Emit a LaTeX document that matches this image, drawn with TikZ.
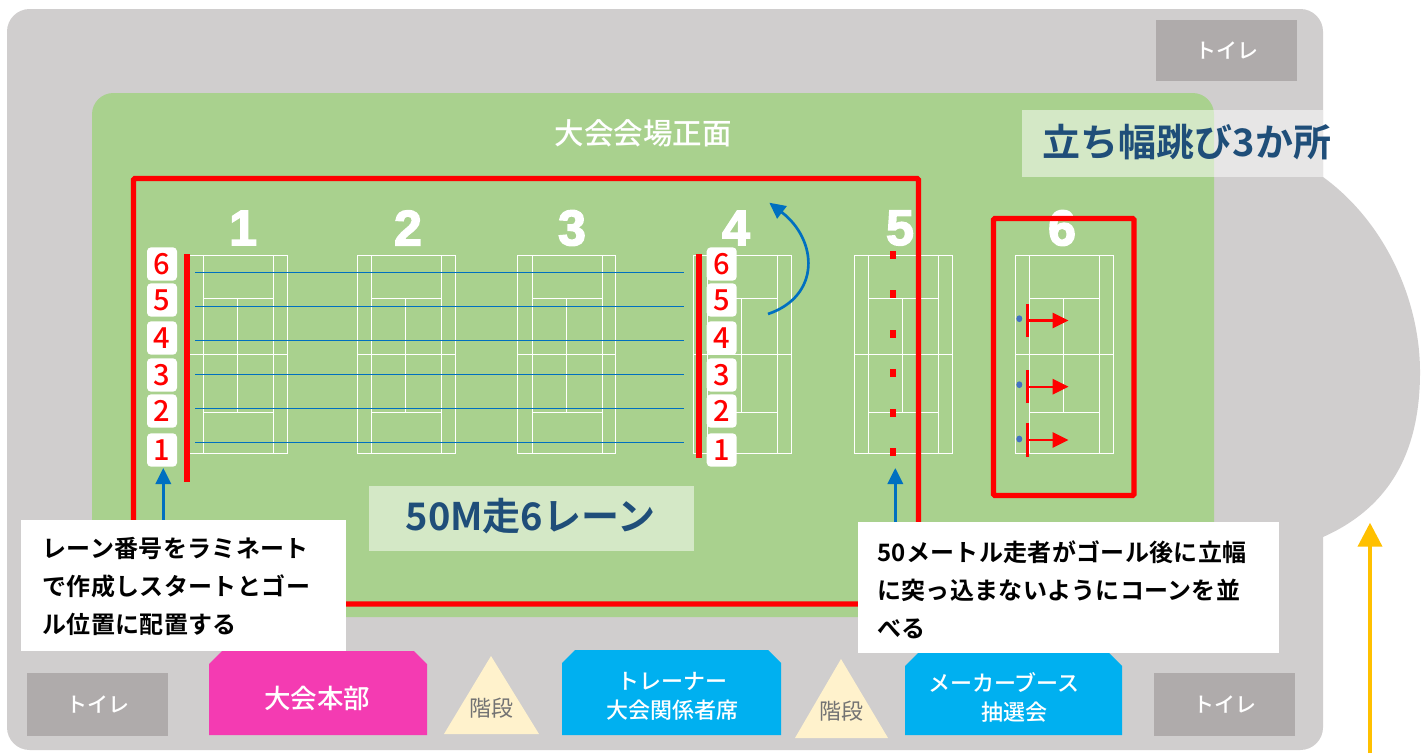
\documentclass[tikz,border=0pt]{standalone}
\usepackage{fontspec}
\usetikzlibrary{arrows.meta}
\setmainfont{Noto Sans CJK JP}
\newfontfamily\jpbold[BoldFont={Noto Sans CJK JP Bold}]{Noto Sans CJK JP}
\newfontfamily\jpnote[LetterSpace=1.5]{Noto Sans CJK JP Bold}
\newfontfamily\jpmed{Noto Sans CJK JP Medium}
\newfontfamily\bignum[FakeBold=3]{Liberation Sans Bold}
\newcommand\pxf[1]{\fontsize{\fpeval{#1*0.75}}{\fpeval{#1*0.9}}\selectfont}
\definecolor{floorgray}{HTML}{D0CECE}
\definecolor{fieldgreen}{HTML}{A9D18E}
\definecolor{wcgray}{HTML}{AFABAB}
\definecolor{navy}{HTML}{1F4E79}
\definecolor{skyb}{HTML}{00B0F0}
\definecolor{pinkb}{HTML}{F43BB2}
\definecolor{stair}{HTML}{FFF2CC}
\definecolor{lineblue}{HTML}{0070C0}
\definecolor{amber}{HTML}{FFC000}
\definecolor{dotblue}{HTML}{4472C4}
\tikzset{
  every node/.style={inner sep=0pt,outer sep=0pt},
  courtline/.style={draw=white,line width=0.75pt},
  bignumber/.style={text=white,font=\bignum\pxf{50}},
  lanebox/.style={fill=white,rounded corners=3pt,minimum width=22.5pt,minimum height=25pt,text=red,font=\jpmed\pxf{29}},
  wc/.style={fill=wcgray,text=white,font=\jpmed\pxf{21}},
  notebox/.style={fill=white},
  notetext/.style={align=left,anchor=north west,text=black,font=\jpnote\pxf{24},text width=330pt},
  head/.style={text=navy,font=\jpbold\bfseries\pxf{38}},
  redbox/.style={draw=red,line width=3.9pt,rounded corners=1pt},
  redbar/.style={draw=red,line width=4.5pt},
  laneline/.style={draw=lineblue,line width=0.6pt},
  bluearrow/.style={draw=lineblue,line width=2pt,-{Triangle[length=12pt,width=11.5pt]}},
  jumparrow/.style={draw=red,line width=1.6pt,-{Triangle[length=12pt,width=11.5pt]}},
  stairtext/.style={text=black!55,font=\pxf{22}},
  boothtext/.style={text=white,align=center,font=\jpmed\pxf{22}}
}
\begin{document}
\begin{tikzpicture}[x=0.75pt,y=-0.75pt]
\useasboundingbox (0,0) rectangle (1427,753);
\fill[white] (0,0) rectangle (1427,753);
% floor
\fill[floorgray] (1323,177) .. controls (1385,222) and (1420,300) .. (1420,372) .. controls (1420,445) and (1395,505) .. (1323,537) -- cycle;
\fill[floorgray,rounded corners=17pt] (7,9) rectangle (1323,750);
% field
\fill[fieldgreen,rounded corners=16pt] (92,93) rectangle (1214,617);
% courts
\foreach \cx in {189,357,517.5,693,854,1015}{
  \draw[courtline] (\cx,255) rectangle (\cx+98,453.5);
  \draw[courtline] (\cx,354) -- (\cx+98,354);
  \draw[courtline] (\cx+14.5,255) -- (\cx+14.5,453.5);
  \draw[courtline] (\cx+84.5,255) -- (\cx+84.5,453.5);
  \draw[courtline] (\cx+14.5,298) -- (\cx+84.5,298);
  \draw[courtline] (\cx+14.5,412) -- (\cx+84.5,412);
  \draw[courtline] (\cx+48.5,298) -- (\cx+48.5,412);
}
% court numbers
\node[bignumber] (n1) at (243,228) {1};
\node[bignumber] (n2) at (408,228) {2};
\node[bignumber] (n3) at (572,228) {3};
\node[bignumber] (n4) at (736,228) {4};
\node[bignumber] (n5) at (900,228) {5};
\node[bignumber] (n6) at (1062,228) {6};
% title
\node[text=white,font=\jpmed\pxf{29.5}] (title) at (643,133) {大会会場正面};
% lane lines
\foreach \ly in {272,306,340,374,408,442}{
  \draw[laneline] (195,\ly) -- (684,\ly);
}
% red areas
\draw[redbox] (133.5,178.5) rectangle (918.5,604);
\draw[redbox] (993.5,218.5) rectangle (1134,495.5);
\draw[redbar] (186.7,254) -- (186.7,482);
\draw[redbar] (699,254) -- (699,457.7);
% lane boxes
\foreach \ly/\lab in {264/6,300/5,338/4,375/3,411/2,450/1}{
  \node[lanebox] (a\lab) at (162,\ly) {\lab};
  \node[lanebox] (b\lab) at (721.7,\ly) {\lab};
}
% goal cones
\foreach \dy in {254.5,294,333.5,373,412.5,452}{
  \fill[red] (890,\dy-4) rectangle (896,\dy+4);
}
% jump marks
\foreach \ty/\ta/\tb/\dy in {320.5/304/336.7/318.7,386.7/370/402.7/384.7,440/423/456.7/439}{
  \draw[red,line width=2pt] (1027.7,\ta) -- (1027.7,\tb);
  \draw[jumparrow] (1027.7,\ty) -- (1068.5,\ty);
  \fill[dotblue] (1019.3,\dy) ellipse[x radius=3,y radius=3.4];
}
% arrows
\coordinate (curveS) at (768,314);
\coordinate (curveE) at (769.3,202.7);
\draw[bluearrow] (curveS) .. controls (821,296) and (818,240) .. (curveE);
\coordinate (leftS) at (163.3,525);
\coordinate (leftE) at (163.3,468);
\draw[bluearrow] (leftS) -- (leftE);
\coordinate (rightS) at (895.3,525);
\coordinate (rightE) at (895.3,468);
\draw[bluearrow] (rightS) -- (rightE);
\coordinate (ambS) at (1370,753);
\coordinate (ambE) at (1370,522.7);
\draw[draw=amber,line width=3pt,-{Triangle[length=18pt,width=18pt]}] (ambS) -- (ambE);
% headings
\fill[white,opacity=0.5] (1022,110) rectangle (1323,177);
\node[head] (jump) at (1187,142) {立ち幅跳び3か所};
\fill[white,opacity=0.5] (369,486) rectangle (694,551);
\node[head] (run) at (530.5,516) {50M走6レーン};
% notes
\fill[notebox] (21,520) rectangle (346,651);
\node[notetext] (noteL) at (42.5,537.5) {レーン番号をラミネート\\[6.9pt]で作成しスタートとゴー\\[6.4pt]ル位置に配置する};
\fill[notebox] (858,522) rectangle (1279,653);
\node[notetext] (noteR) at (877,541) {50メートル走者がゴール後に立幅\\[6.9pt]に突っ込まないようにコーンを並\\[6.4pt]べる};
% toilets
\node[wc,minimum width=105.75pt,minimum height=45.75pt] (wc1) at (1226.5,50.5) {トイレ};
\node[wc,minimum width=105.75pt,minimum height=47.25pt] (wc2) at (97.5,704.5) {トイレ};
\node[wc,minimum width=105.75pt,minimum height=47.25pt] (wc3) at (1224.5,704.5) {トイレ};
% booths
\fill[pinkb] (209,735) -- (209,664) -- (222,651) -- (414,651) -- (427,664) -- (427,735) -- cycle;
\node[text=white,font=\jpmed\pxf{26.5}] (hq) at (317,698) {大会本部};
\fill[skyb] (562,735) -- (562,663) -- (575,650) -- (768,650) -- (781,663) -- (781,735) -- cycle;
\node[boothtext] (trainer) at (672,696) {トレーナー\\[2pt]大会関係者席};
\fill[skyb] (905,735) -- (905,666) -- (918,653) -- (1109,653) -- (1122,666) -- (1122,735) -- cycle;
\node[boothtext] (maker) at (1014,697) {メーカーブース\rule{15pt}{0pt}\\[2pt]抽選会};
% stairs
\fill[stair] (491,656) -- (539,734) -- (444,734) -- cycle;
\node[stairtext] (st1) at (491,708) {階段};
\fill[stair] (841,659) -- (888,738) -- (795,738) -- cycle;
\node[stairtext] (st2) at (841,711) {階段};
\end{tikzpicture}
\end{document}
